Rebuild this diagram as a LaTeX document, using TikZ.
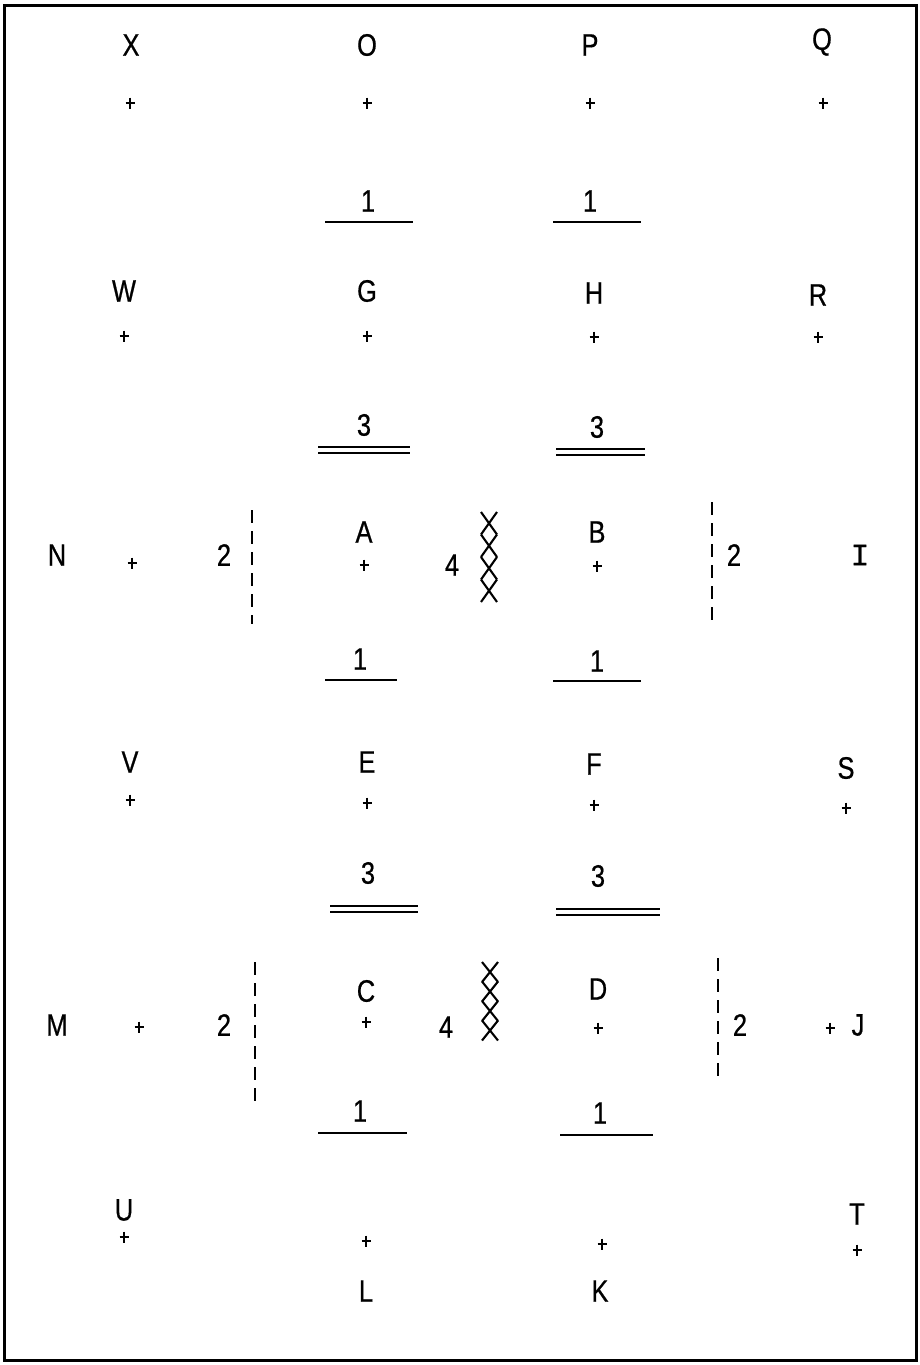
\documentclass[tikz,border=0pt]{standalone}
\usepackage{fontspec}
\setmainfont{Liberation Sans}[FakeStretch=0.82,FakeBold=0.6]
\newfontfamily\monof{Liberation Mono}[FakeBold=0.6]
\begin{document}
\begin{tikzpicture}[x=1pt,y=-1pt,
  lbl/.style={inner sep=0pt,font=\fontsize{31}{31}\selectfont},
  pmark/.pic={\draw[line width=2.3pt] (-4.5,0)--(4.5,0) (0,-5.5)--(0,5.5);},
  rule/.style={line width=2.4pt},
  dbl/.style={line width=2.1pt},
  dash2/.style={line width=2.4pt,dash pattern=on 13pt off 8pt},
  xmark/.style={line width=2.1pt}]
\useasboundingbox (0,0) rectangle (920,1365);
\draw[line width=3pt] (4,5) rectangle (916,1360);
% row 1
\node[lbl] (X) at (131,45) {X};  \pic at (130,103) {pmark};
\node[lbl] (O) at (367,45) {O};  \pic at (367,103) {pmark};
\node[lbl] (P) at (590,45) {P};  \pic at (590,103) {pmark};
\node[lbl] (Q) at (822,42) {Q};  \pic at (823,103) {pmark};
% 1 lines
\node[lbl] (o1) at (368,201) {1}; \draw[rule] (325,222) -- (413,222);
\node[lbl] (p1) at (590,201) {1}; \draw[rule] (553,222) -- (641,222);
% row 2
\node[lbl] (W) at (124,291) {W}; \pic at (124,336) {pmark};
\node[lbl] (G) at (367,291) {G}; \pic at (367,336) {pmark};
\node[lbl] (H) at (594,293) {H}; \pic at (594,337) {pmark};
\node[lbl] (R) at (818,295) {R}; \pic at (818,337) {pmark};
% 3 double lines
\node[lbl] (g3) at (364,425) {3};
\draw[dbl] (318,447) -- (410,447) (318,453) -- (410,453);
\node[lbl] (h3) at (597,427) {3};
\draw[dbl] (556,449) -- (645,449) (556,455) -- (645,455);
% row 3
\node[lbl] (N) at (57,555) {N}; \pic at (132,563) {pmark};
\node[lbl] (n2) at (224,555) {2};
\draw[dash2] (252,510) -- (252,624);
\node[lbl] (A) at (364,532) {A}; \pic at (364,565) {pmark};
\node[lbl] (a4) at (452,565) {4};
\foreach \k in {0,1,2,3}
  \draw[xmark] (481,512+22.5*\k) -- (497,534.5+22.5*\k) (497,512+22.5*\k) -- (481,534.5+22.5*\k);
\node[lbl] (B) at (597,532) {B}; \pic at (597,566) {pmark};
\draw[dash2] (712,502) -- (712,624);
\node[lbl] (b2) at (734,555) {2};
\node[lbl,font=\monof\fontsize{31}{31}\selectfont] (I) at (860,555) {I};
% 1 lines
\node[lbl] (a1) at (360,659) {1}; \draw[rule] (325,680) -- (397,680);
\node[lbl] (b1) at (597,661) {1}; \draw[rule] (553,681) -- (641,681);
% row 4
\node[lbl] (V) at (130,762) {V}; \pic at (130,800) {pmark};
\node[lbl] (E) at (367,762) {E}; \pic at (367,803) {pmark};
\node[lbl] (F) at (594,764) {F}; \pic at (594,805) {pmark};
\node[lbl] (S) at (846,768) {S}; \pic at (846,808) {pmark};
% 3 double lines
\node[lbl] (e3) at (368,873) {3};
\draw[dbl] (330,906) -- (418,906) (330,912) -- (418,912);
\node[lbl] (f3) at (598,876) {3};
\draw[dbl] (556,909) -- (660,909) (556,915) -- (660,915);
% row 5
\node[lbl] (M) at (57,1025) {M}; \pic at (139,1027) {pmark};
\node[lbl] (m2) at (224,1025) {2};
\draw[dash2] (255,962) -- (255,1108);
\node[lbl] (C) at (366,991) {C}; \pic at (366,1022) {pmark};
\node[lbl] (c4) at (446,1027) {4};
\foreach \k in {0,1,2,3}
  \draw[xmark] (482,962+19.5*\k) -- (498,982+19.5*\k) (498,962+19.5*\k) -- (482,982+19.5*\k);
\node[lbl] (D) at (598,989) {D}; \pic at (598,1028) {pmark};
\draw[dash2] (718,958) -- (718,1076);
\node[lbl] (d2) at (740,1025) {2};
\pic at (830,1028) {pmark};
\node[lbl] (J) at (858,1025) {J};
% 1 lines
\node[lbl] (c1) at (360,1111) {1}; \draw[rule] (318,1133) -- (407,1133);
\node[lbl] (d1) at (600,1113) {1}; \draw[rule] (560,1135) -- (653,1135);
% row 6
\node[lbl] (U) at (124,1210) {U}; \pic at (124,1237) {pmark};
\pic at (366,1241) {pmark}; \node[lbl] (L) at (366,1291) {L};
\pic at (602,1244) {pmark}; \node[lbl] (K) at (600,1291) {K};
\node[lbl] (T) at (857,1214) {T}; \pic at (857,1250) {pmark};
\end{tikzpicture}
\end{document}
